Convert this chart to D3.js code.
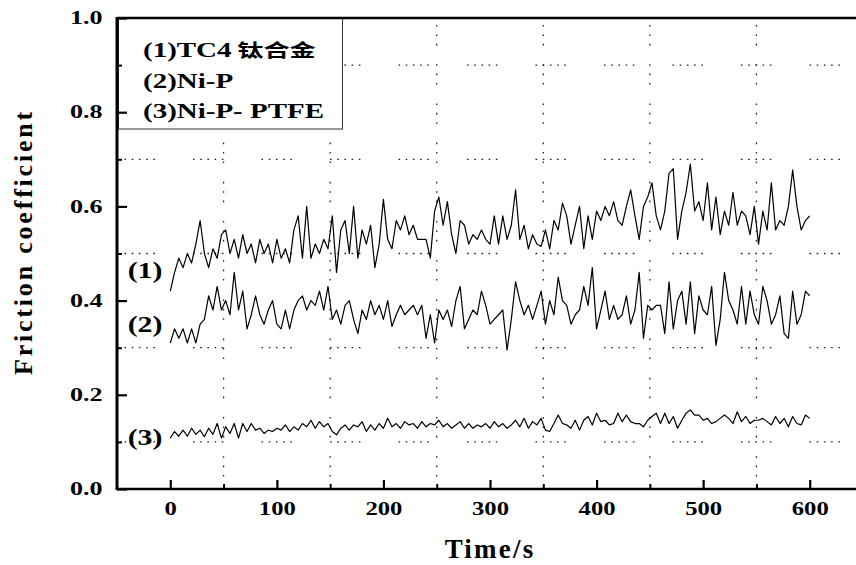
<!DOCTYPE html>
<html>
<head>
<meta charset="utf-8">
<script src="https://cdn.jsdelivr.net/npm/d3@7"></script>
<style>
body { margin: 0; background: #fff; }
svg { display: block; }
text { font-family: "Liberation Serif", "Times New Roman", serif; font-weight: bold; fill: #000; }
</style>
</head>
<body>
<svg id="chart" width="856" height="565"></svg>
<script>
// ---- data (time step 4 s, 0..600 s) ----
const timeStep = 4;

const curveLabels = ["(1)", "(2)", "(3)"];
const curveLabelValues = [0.448, 0.333, 0.093];
const legendLatin = ["(1)TC4", "(2)Ni-P", "(3)Ni-P- PTFE"];
const legendCjk = ["钛合金", "", ""];

const xTicks = [0, 100, 200, 300, 400, 500, 600];
const xMinor = [50, 150, 250, 350, 450, 550];
const yTicks = [0, 0.2, 0.4, 0.6, 0.8, 1.0];
const yMinor = [0.1, 0.3, 0.5, 0.7, 0.9];

// (1) TC4 titanium alloy
const tc4 = [
  0.42,0.46,0.49,0.47,0.50,0.48,0.52,0.57,0.50,0.47,
  0.51,0.49,0.54,0.55,0.50,0.53,0.49,0.54,0.50,0.52,
  0.48,0.53,0.50,0.52,0.48,0.53,0.49,0.51,0.48,0.55,
  0.58,0.49,0.60,0.49,0.52,0.50,0.53,0.51,0.58,0.46,
  0.55,0.57,0.50,0.60,0.49,0.55,0.52,0.56,0.47,0.52,
  0.615,0.53,0.51,0.57,0.55,0.58,0.54,0.56,0.53,0.53,
  0.53,0.49,0.59,0.62,0.56,0.61,0.54,0.50,0.57,0.56,
  0.52,0.54,0.53,0.55,0.53,0.52,0.58,0.52,0.58,0.53,
  0.56,0.635,0.53,0.56,0.51,0.54,0.52,0.515,0.55,0.51,
  0.57,0.55,0.607,0.58,0.52,0.56,0.60,0.51,0.58,0.53,
  0.59,0.57,0.60,0.58,0.61,0.57,0.56,0.60,0.635,0.58,
  0.53,0.60,0.62,0.65,0.58,0.55,0.59,0.67,0.68,0.53,
  0.59,0.63,0.69,0.59,0.61,0.57,0.65,0.55,0.62,0.54,
  0.59,0.56,0.63,0.56,0.59,0.58,0.54,0.60,0.52,0.59,
  0.55,0.65,0.55,0.57,0.56,0.60,0.677,0.60,0.55,0.57,
  0.58
];

// (2) Ni-P
const nip = [
  0.31,0.34,0.32,0.34,0.31,0.34,0.31,0.35,0.36,0.41,
  0.38,0.43,0.38,0.40,0.37,0.46,0.38,0.42,0.34,0.37,
  0.41,0.37,0.35,0.38,0.40,0.35,0.34,0.38,0.34,0.38,
  0.40,0.41,0.38,0.40,0.39,0.42,0.38,0.43,0.36,0.38,
  0.35,0.39,0.40,0.36,0.33,0.38,0.36,0.40,0.37,0.39,
  0.36,0.40,0.345,0.37,0.39,0.37,0.38,0.39,0.37,0.39,
  0.32,0.37,0.31,0.38,0.36,0.38,0.345,0.40,0.43,0.34,
  0.36,0.38,0.37,0.42,0.39,0.35,0.36,0.37,0.38,0.295,
  0.36,0.44,0.40,0.37,0.39,0.36,0.39,0.42,0.35,0.40,
  0.37,0.45,0.40,0.39,0.35,0.37,0.38,0.43,0.39,0.47,
  0.34,0.38,0.42,0.36,0.39,0.36,0.37,0.41,0.35,0.38,
  0.46,0.32,0.39,0.38,0.39,0.39,0.33,0.44,0.34,0.40,
  0.42,0.35,0.44,0.33,0.41,0.38,0.37,0.43,0.305,0.36,
  0.46,0.40,0.38,0.35,0.43,0.35,0.42,0.37,0.35,0.43,
  0.40,0.35,0.37,0.41,0.33,0.32,0.42,0.35,0.37,0.42,
  0.41
];

// (3) Ni-P-PTFE
const nipPtfe = [
  0.108,0.122,0.112,0.125,0.112,0.129,0.116,0.125,0.111,0.129,
  0.116,0.139,0.108,0.132,0.118,0.139,0.108,0.139,0.122,0.139,
  0.125,0.129,0.118,0.125,0.122,0.129,0.125,0.136,0.122,0.132,
  0.125,0.139,0.132,0.146,0.129,0.143,0.132,0.139,0.122,0.115,
  0.129,0.136,0.125,0.136,0.132,0.143,0.122,0.136,0.125,0.139,
  0.129,0.150,0.132,0.139,0.129,0.143,0.136,0.139,0.129,0.143,
  0.132,0.139,0.136,0.146,0.132,0.139,0.129,0.136,0.143,0.129,
  0.139,0.129,0.136,0.132,0.139,0.129,0.143,0.132,0.139,0.129,
  0.136,0.146,0.132,0.150,0.129,0.143,0.136,0.150,0.125,0.122,
  0.139,0.157,0.139,0.136,0.129,0.146,0.125,0.146,0.154,0.136,
  0.161,0.143,0.146,0.136,0.139,0.161,0.143,0.157,0.143,0.139,
  0.139,0.132,0.146,0.154,0.161,0.139,0.161,0.139,0.154,0.129,
  0.146,0.161,0.168,0.157,0.157,0.146,0.150,0.139,0.143,0.150,
  0.157,0.150,0.139,0.164,0.143,0.154,0.139,0.146,0.146,0.150,
  0.143,0.136,0.154,0.139,0.150,0.132,0.154,0.139,0.136,0.157,
  0.150
];

const series = [tc4, nip, nipPtfe];

// ---- scales ----
const x = d3.scaleLinear().domain([-50, 650]).range([117, 863]);
const y = d3.scaleLinear().domain([0, 1]).range([489, 18]);

const svg = d3.select("#chart");
svg.append("rect").attr("width", 856).attr("height", 565).attr("fill", "#fff");

// dotted grid on the minor positions
const grid = svg.append("g").attr("fill", "none").attr("stroke", "#222").attr("stroke-width", 1.3);
grid.selectAll("line.h").data(yMinor).join("line")
    .attr("class", "h")
    .attr("x1", x(-50)).attr("x2", x(650))
    .attr("y1", d => y(d)).attr("y2", d => y(d))
    .attr("stroke-dasharray", "1.6,5.6,1.6,5.6,1.6,5.6,1.6,5.6,1.6,38.1")
    .attr("stroke-dashoffset", 61);
grid.selectAll("line.v").data(xMinor).join("line")
    .attr("class", "v")
    .attr("x1", d => x(d)).attr("x2", d => x(d))
    .attr("y1", y(1)).attr("y2", y(0))
    .attr("stroke-dasharray", "1.6,7.8,1.6,7.8,1.6,18.8")
    .attr("stroke-dashoffset", 32.2);

// curves
const line = d3.line()
    .x((d, i) => x(i * timeStep))
    .y(d => y(d));

svg.append("g")
    .selectAll("path")
    .data(series)
    .join("path")
    .attr("d", line)
    .attr("fill", "none")
    .attr("stroke", "#000")
    .attr("stroke-width", 1.2)
    .attr("stroke-linejoin", "round");

// curve labels
svg.append("g")
    .selectAll("text")
    .data(curveLabels)
    .join("text")
    .attr("transform", (d, i) => `translate(${x(-40)},${y(curveLabelValues[i])}) scale(1.3,1)`)
    .style("font-size", "23px")
    .text(d => d);

// legend box
const legend = svg.append("g");
legend.append("rect")
    .attr("x", 118.5).attr("y", 18)
    .attr("width", 224).attr("height", 111)
    .attr("fill", "#fff").attr("stroke", "#333").attr("stroke-width", 1);
const legendText = legend.selectAll("text")
    .data(legendLatin)
    .join("text")
    .attr("transform", (d, i) => `translate(143,${57 + i * 30.5}) scale(1.45,1)`)
    .style("font-size", "20px");
legendText.append("tspan").text(d => d);
legendText.append("tspan")
    .attr("dx", 4)
    .style("font-family", '"Noto Sans CJK SC", sans-serif')
    .style("font-size", "18px")
    .text((d, i) => legendCjk[i]);

// frame
const frame = svg.append("g").attr("stroke", "#000");
frame.append("line").attr("x1", x(-50)).attr("x2", x(-50)).attr("y1", y(1) - 1).attr("y2", y(0) + 1).attr("stroke-width", 3);
frame.append("line").attr("x1", x(-50)).attr("x2", x(650)).attr("y1", y(1)).attr("y2", y(1)).attr("stroke-width", 2.5);
frame.append("line").attr("x1", x(-50)).attr("x2", x(650)).attr("y1", y(0)).attr("y2", y(0)).attr("stroke-width", 2.5);
frame.append("line").attr("x1", x(650)).attr("x2", x(650)).attr("y1", y(1)).attr("y2", y(0)).attr("stroke-width", 2.5);

// x axis (ticks point inward)
const xAxis = svg.append("g")
    .attr("transform", `translate(0,${y(0)})`)
    .call(d3.axisBottom(x).tickValues(xTicks).tickSizeInner(-9).tickSizeOuter(0).tickPadding(13).tickFormat(d3.format("d")));
xAxis.select(".domain").remove();
xAxis.selectAll(".tick line").attr("stroke", "#000").attr("stroke-width", 2.2);
xAxis.selectAll(".tick text")
    .attr("transform", "scale(1.3,1)")
    .style("font-size", "19px");

const xAxisMinor = svg.append("g")
    .attr("transform", `translate(0,${y(0)})`)
    .call(d3.axisBottom(x).tickValues(xMinor).tickSizeInner(-5).tickSizeOuter(0).tickFormat(""));
xAxisMinor.select(".domain").remove();
xAxisMinor.selectAll(".tick line").attr("stroke", "#000").attr("stroke-width", 2);

// y axis
const yAxis = svg.append("g")
    .attr("transform", `translate(${x(-50)},0)`)
    .call(d3.axisLeft(y).tickValues(yTicks).tickSizeInner(-10).tickSizeOuter(0).tickPadding(10).tickFormat(d3.format(".1f")));
yAxis.select(".domain").remove();
yAxis.selectAll(".tick line").attr("stroke", "#000").attr("stroke-width", 2.2);
yAxis.selectAll(".tick text")
    .attr("transform", "scale(1.45,1)")
    .style("font-size", "18px");

const yAxisMinor = svg.append("g")
    .attr("transform", `translate(${x(-50)},0)`)
    .call(d3.axisLeft(y).tickValues(yMinor).tickSizeInner(-5).tickSizeOuter(0).tickFormat(""));
yAxisMinor.select(".domain").remove();
yAxisMinor.selectAll(".tick line").attr("stroke", "#000").attr("stroke-width", 2);

// axis titles
svg.append("text")
    .attr("x", 490).attr("y", 558)
    .attr("text-anchor", "middle")
    .style("font-size", "27px")
    .style("letter-spacing", "2.2px")
    .text("Time/s");

svg.append("text")
    .attr("transform", "translate(32,242) rotate(-90)")
    .attr("text-anchor", "middle")
    .style("font-size", "26px")
    .style("letter-spacing", "2.8px")
    .text("Friction coefficient");
</script>
</body>
</html>
